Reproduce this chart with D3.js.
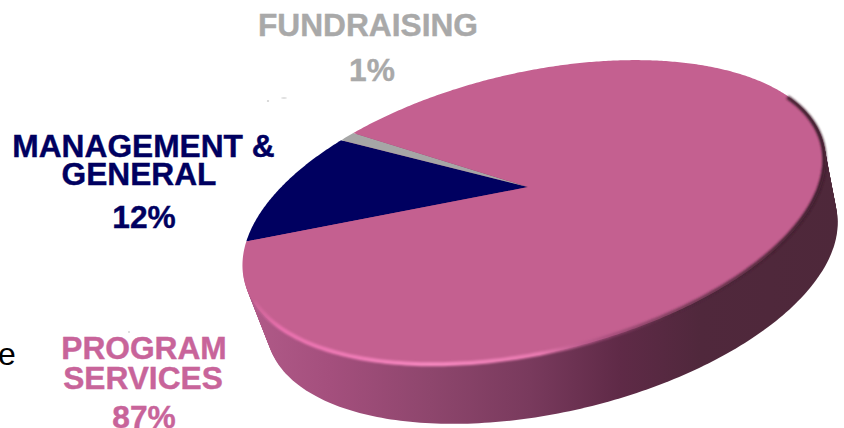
<!DOCTYPE html>
<html>
<head>
<meta charset="utf-8">
<script src="https://cdn.jsdelivr.net/npm/d3@7"></script>
<style>
  html, body { margin: 0; padding: 0; background: #fff; overflow: hidden; }
  svg { display: block; }
  text { font-family: "Liberation Sans", Arial, sans-serif; font-weight: bold; font-size: 31.7px; text-anchor: middle; stroke-width: 0.4px; }
</style>
</head>
<body>
<script>
// values, in drawing order round the disc
var categories = ["MANAGEMENT & GENERAL", "FUNDRAISING", "PROGRAM SERVICES"];
var shares = [12, 1, 87];
var colors = ["#000060", "#a6a6a6", "#c46090"];

var labelLines = [["MANAGEMENT &", "GENERAL", "12%"], ["FUNDRAISING", "1%"], ["PROGRAM", "SERVICES", "87%"]];
var labelColors = ["#000060", "#a9a9a9", "#c8649a"];
var labelX = [[143.5, 139, 144], [368, 372], [144, 143, 144]];
var labelY = [[157, 185, 228], [36, 81], [359, 389, 428]];

var width = 844, height = 428;

// top face of the disc: a tilted ellipse, pie centre sits off the ellipse centre (perspective)
var cx = 534, cy = 212.5, rx = 297.7, ry = 140, tilt = 13.25 * Math.PI / 180;
var centreV = -0.187;
var startAngle = 275 * Math.PI / 180;
var depth = 36;

var svg = d3.select("body").append("svg")
    .attr("width", width)
    .attr("height", height);

var defs = svg.append("defs");

function gradient(id, stops) {
  var g = defs.append("linearGradient")
      .attr("id", id)
      .attr("gradientUnits", "userSpaceOnUse")
      .attr("x1", 240).attr("x2", 840).attr("y1", 0).attr("y2", 0);
  g.selectAll("stop").data(stops).enter().append("stop")
      .attr("offset", function(d) { return (d[0] - 240) / 600; })
      .attr("stop-color", function(d) { return d[1]; })
      .attr("stop-opacity", function(d) { return d[2] === undefined ? 1 : d[2]; });
}

gradient("side", [[250, "#b05a88"], [330, "#a44f7d"], [430, "#8e466d"], [530, "#793a5d"],
                  [620, "#5f2a47"], [700, "#50283c"], [840, "#4e283a"]]);
gradient("rim", [[245, "#e56fab", 0], [280, "#e870ad"], [430, "#f688c0"], [540, "#e87ab0"],
                 [610, "#a04a78", 0.7], [680, "#4e283a", 0.6], [820, "#3a1a2a"]]);

defs.append("filter").attr("id", "soft")
    .attr("x", "-5%").attr("y", "-5%").attr("width", "110%").attr("height", "110%")
  .append("feGaussianBlur").attr("stdDeviation", 1.1);

// unit disc to screen
function toScreen(u, v, dx, dy, s) {
  var x = rx * u * s, y = ry * v * s;
  return [cx + (dx || 0) + x * Math.cos(tilt) + y * Math.sin(tilt),
          cy + (dy || 0) - x * Math.sin(tilt) + y * Math.cos(tilt)];
}

// projective shift of the disc that moves its centre to the pie centre
function shifted(angle) {
  var ux = Math.sin(angle), uy = -Math.cos(angle);
  var k = Math.sqrt(1 - centreV * centreV), den = 1 + centreV * uy;
  return [k * ux / den, (uy + centreV) / den];
}

var line = d3.line();

// side wall: the face ellipse swept down and a little to the right
d3.range(depth, 0, -1).forEach(function(i) {
  var f = i / depth;
  var pts = d3.range(0, 2 * Math.PI, 0.02).map(function(t) {
    return toScreen(Math.cos(t), Math.sin(t), 18 * f, 62 * f, 1 - 0.02 * f);
  });
  svg.append("path")
      .attr("d", line(pts) + "Z")
      .attr("fill", "url(#side)");
});

// slices
var pie = d3.pie().sort(null)
    .startAngle(startAngle)
    .endAngle(startAngle + 2 * Math.PI);

svg.selectAll("path.slice")
  .data(pie(shares))
  .enter().append("path")
    .attr("class", "slice")
    .attr("fill", function(d, i) { return colors[i]; })
    .attr("d", function(d) {
      var n = Math.ceil((d.endAngle - d.startAngle) / 0.01);
      var pts = d3.range(n + 1).map(function(j) {
        var q = shifted(d.startAngle + (d.endAngle - d.startAngle) * j / n);
        return toScreen(q[0], q[1], 0, 0, 1);
      });
      return line([toScreen(0, centreV, 0, 0, 1)].concat(pts)) + "Z";
    });

// lit / shaded rim, from the upper right round the front to the left
var rimPts = d3.range(-0.4, 3.0, 0.02).map(function(t) {
  return toScreen(Math.cos(t), Math.sin(t), 0, 0, 0.996);
});
svg.append("path")
    .attr("d", line(rimPts))
    .attr("fill", "none")
    .attr("stroke", "url(#rim)")
    .attr("stroke-width", 4)
    .attr("filter", "url(#soft)");

// labels
labelLines.forEach(function(lines, i) {
  svg.selectAll("text.l" + i)
    .data(lines)
    .enter().append("text")
      .attr("class", "l" + i)
      .attr("x", function(d, j) { return labelX[i][j]; })
      .attr("y", function(d, j) { return labelY[i][j]; })
      .attr("fill", labelColors[i])
      .attr("stroke", labelColors[i])
      .text(function(d) { return d; });
});

// cut-off letter at the left edge of the source picture
svg.append("text")
    .attr("x", -2).attr("y", 365)
    .style("text-anchor", "start")
    .style("font-weight", "normal")
    .style("font-size", "32px")
    .style("stroke-width", 0)
    .attr("fill", "#000")
    .text("e");

// faint specks left over in the source picture
svg.selectAll("ellipse.speck")
  .data([[268, 101, 1.2, 1], [284, 98, 3, 0.8], [129, 332, 1, 1]])
  .enter().append("ellipse")
    .attr("class", "speck")
    .attr("cx", function(d) { return d[0]; })
    .attr("cy", function(d) { return d[1]; })
    .attr("rx", function(d) { return d[2]; })
    .attr("ry", function(d) { return d[3]; })
    .attr("fill", "#d4d4d4");
</script>
</body>
</html>
